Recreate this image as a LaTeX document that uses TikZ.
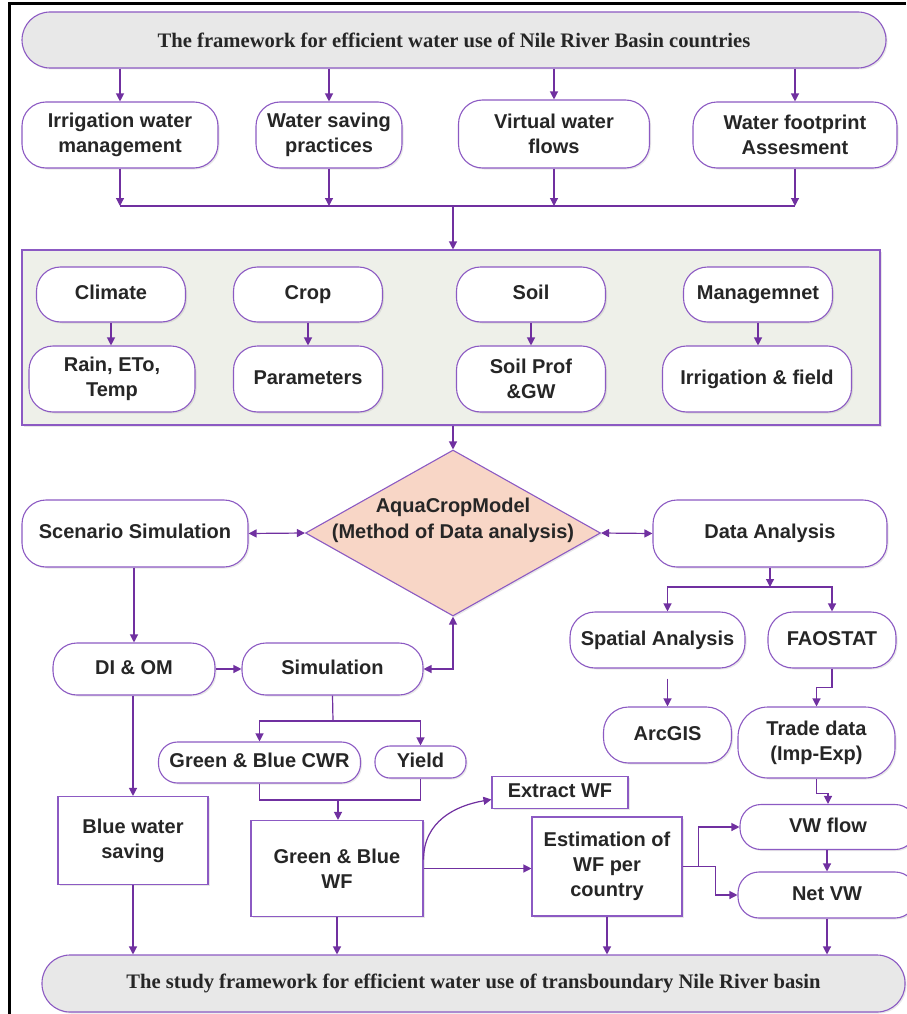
\documentclass[tikz,border=0pt]{standalone}
\usepackage{fontspec}
\setmainfont{Liberation Serif}
\newfontfamily\boxfont{Liberation Sans}
\usetikzlibrary{shapes.geometric,arrows.meta,shadows}
\definecolor{vio}{RGB}{112,48,160}
\definecolor{boxline}{RGB}{140,90,195}
\definecolor{greyfill}{RGB}{232,232,232}
\definecolor{sagefill}{RGB}{238,240,233}
\definecolor{peach}{RGB}{248,214,198}
\definecolor{ink}{RGB}{38,38,38}

\begin{document}
\begin{tikzpicture}[x=1pt, y=-1pt,
	>={Triangle[length=8pt,width=8pt]},
	link/.style={draw=vio, line width=1.2pt},
	shadowed/.style={drop shadow={opacity=0.18, shadow xshift=1.5pt, shadow yshift=-1.5pt}},
	pill/.style={draw=boxline, line width=1.1pt, fill=white, rounded corners=24pt, align=center, inner sep=0pt, text=ink, shadowed, font=\boxfont\bfseries\fontsize{20}{25}\selectfont},
	oneline/.style={text height=14.5pt, text depth=4.2pt},
	sqbox/.style={pill, rounded corners=0pt},
	banner/.style={pill, fill=greyfill, rounded corners=28pt, font=\bfseries\fontsize{20.6}{24}\selectfont}
	]
			\useasboundingbox (0,0) rectangle (906,1014) ;
			\draw [line width=3pt] (9,1014) -- (9,4) -- (906,4) ;

			% header and row of topics
			\node[banner, minimum width=864pt, minimum height=56pt] (top) at (454,40) {The framework for efficient water use of Nile River Basin countries} ;
			\node[pill, minimum width=196pt, minimum height=66pt] (irr) at (120,135) {Irrigation water\\management} ;
			\node[pill, minimum width=146pt, minimum height=66pt] (wsp) at (329,135) {Water saving\\practices} ;
			\node[pill, minimum width=191pt, minimum height=68pt] (virt) at (554,134) {Virtual water\\flows} ;
			\node[pill, minimum width=204pt, minimum height=66pt] (wfa) at (795,135) {Water footprint\\Assesment} ;

			\draw [link, ->] (irr.north |- top.south) -- (irr.north) ;
			\draw [link, ->] (wsp.north |- top.south) -- (wsp.north) ;
			\draw [link, ->] (virt.north |- top.south) -- (virt.north) ;
			\draw [link, ->] (wfa.north |- top.south) -- (wfa.north) ;

			\coordinate (bus1) at (453,206) ;
			\draw [link, ->] (irr.south) -- (irr.south |- bus1) ;
			\draw [link, ->] (wsp.south) -- (wsp.south |- bus1) ;
			\draw [link, ->] (virt.south) -- (virt.south |- bus1) ;
			\draw [link, ->] (wfa.south) -- (wfa.south |- bus1) ;
			\draw [link] (irr.south |- bus1) -- (wfa.south |- bus1) ;

			% model inputs
			\node[sqbox, fill=sagefill, minimum width=858pt, minimum height=175pt] (inputs) at (451,337.5) {} ;
			\draw [link, ->] (bus1) -- (bus1 |- inputs.north) ;

			\node[pill, oneline, minimum width=149pt, minimum height=55pt] (climate) at (111,294.5) {Climate} ;
			\node[pill, oneline, minimum width=149pt, minimum height=55pt] (crop) at (308,294.5) {Crop} ;
			\node[pill, oneline, minimum width=149pt, minimum height=55pt] (soil) at (531,294.5) {Soil} ;
			\node[pill, oneline, minimum width=149pt, minimum height=55pt] (mgmt) at (758,294.5) {Managemnet} ;
			\node[pill, minimum width=166pt, minimum height=66pt] (rain) at (112,379) {Rain, ETo,\\Temp} ;
			\node[pill, oneline, minimum width=149pt, minimum height=66pt] (param) at (308,379) {Parameters} ;
			\node[pill, minimum width=149pt, minimum height=66pt] (sprof) at (531,379) {Soil Prof\\\&GW} ;
			\node[pill, oneline, minimum width=189pt, minimum height=66pt] (irfield) at (757,379) {Irrigation \& field} ;

			\draw [link, ->] (climate.south) -- (climate.south |- rain.north) ;
			\draw [link, ->] (crop.south) -- (param.north) ;
			\draw [link, ->] (soil.south) -- (sprof.north) ;
			\draw [link, ->] (mgmt.south) -- (mgmt.south |- irfield.north) ;

			% model
			\node[diamond, draw=boxline, line width=1.1pt, fill=peach, shadowed, minimum width=295pt, minimum height=166pt, inner sep=0pt] (aqua) at (453,533) {} ;
			\node[align=center, text=ink, font=\boxfont\bfseries\fontsize{20}{26}\selectfont] (aquatext) at (453,520) {AquaCropModel\\(Method of Data analysis)} ;
			\draw [link, ->] (inputs.south -| aqua.north) -- (aqua.north) ;

			\node[pill, oneline, minimum width=226pt, minimum height=67pt] (scen) at (135,533.5) {Scenario Simulation} ;
			\node[pill, oneline, minimum width=234pt, minimum height=67pt] (data) at (770,533.5) {Data Analysis} ;
			\draw [link, <->] (scen.east) -- (aqua.west) ;
			\draw [link, <->] (aqua.east) -- (data.west) ;

			% scenario branch
			\node[pill, oneline, minimum width=162pt, minimum height=52pt] (dio) at (134,669) {DI \& OM} ;
			\node[pill, oneline, minimum width=181pt, minimum height=52pt] (sim) at (332.5,669) {Simulation} ;
			\draw [link, ->] (dio.north |- scen.south) -- (dio.north) ;
			\draw [link, ->] (dio.east) -- (sim.west) ;
			\draw [link, <->] (aqua.south) |- (sim.east) ;

			\node[pill, oneline, rounded corners=19pt, minimum width=202pt, minimum height=41pt] (cwr) at (259.5,762.5) {Green \& Blue CWR} ;
			\node[pill, oneline, rounded corners=15pt, minimum width=91pt, minimum height=32pt] (yield) at (420.5,762) {Yield} ;
			\coordinate (fork1) at (333,721) ;
			\draw [link] (sim.south) -- (fork1) ;
			\draw [link, ->] (fork1) -| (cwr.north) ;
			\draw [link, ->] (fork1) -| (yield.north) ;

			\node[sqbox, minimum width=172pt, minimum height=96pt] (gbwf) at (337,868.5) {Green \& Blue\\WF} ;
			\node[sqbox, minimum width=150pt, minimum height=88pt] (bws) at (133,840.5) {Blue water\\saving} ;
			\coordinate (join1) at (338,800) ;
			\draw [link] (cwr.south) |- (yield.south |- join1) -- (yield.south) ;
			\draw [link, ->] (join1) -- (gbwf.north -| join1) ;
			\draw [link, ->] (bws.north |- dio.south) -- (bws.north) ;

			% water footprint
			\node[sqbox, oneline, minimum width=136pt, minimum height=32pt] (extract) at (560,792.5) {Extract WF} ;
			\node[sqbox, minimum width=150pt, minimum height=99pt] (est) at (607,866.5) {Estimation of\\WF per\\country} ;
			\draw [link, ->] ([yshift=9pt]gbwf.east) .. controls +(0,-38) and +(-36,6) .. ([yshift=-7pt]extract.west) ;
			\draw [link, ->] (gbwf.east) -- (gbwf.east -| est.west) ;

			% data analysis branch
			\node[pill, oneline, rounded corners=25pt, minimum width=175pt, minimum height=56pt] (spatial) at (657.5,640) {Spatial Analysis} ;
			\node[pill, oneline, rounded corners=25pt, minimum width=128pt, minimum height=56pt] (fao) at (832,640) {FAOSTAT} ;
			\node[pill, oneline, rounded corners=25pt, minimum width=128pt, minimum height=56pt] (arcgis) at (667.5,735) {ArcGIS} ;
			\node[pill, rounded corners=30pt, minimum width=157pt, minimum height=71pt] (trade) at (816.5,742.5) {Trade data\\(Imp-Exp)} ;
			\coordinate (bus3) at (770,587) ;
			\draw [link, ->] (data.south) -- (bus3) ;
			\draw [link, ->] (bus3) -| (spatial.north -| arcgis.north) ;
			\draw [link, ->] (bus3) -| (fao.north) ;
			\draw [link, ->] ([yshift=-10pt]spatial.south -| arcgis.north) -- (arcgis.north) ;
			\draw [link, ->] (fao.south) -- ++(0,19) -| (trade.north) ;

			\node[pill, oneline, rounded corners=21pt, minimum width=176pt, minimum height=45pt] (vwflow) at (828,827) {VW flow} ;
			\node[pill, oneline, rounded corners=21pt, minimum width=178pt, minimum height=46pt] (netvw) at (827,895) {Net VW} ;
			\draw [link, ->] (trade.south) -- ++(0,15) -| (vwflow.north) ;
			\draw [link, ->] (est.east) -- ++(16,0) |- (vwflow.west) ;
			\draw [link, ->] (est.east) -- ++(33,0) |- (netvw.west) ;
			\draw [link, ->] (vwflow.south -| netvw.north) -- (netvw.north) ;

			% study framework
			\node[banner, minimum width=863pt, minimum height=57pt] (bottom) at (473.5,983.5) {The study framework for efficient water use of transboundary Nile River basin} ;
			\draw [link, ->] (bws.south) -- (bws.south |- bottom.north) ;
			\draw [link, ->] (gbwf.south) -- (gbwf.south |- bottom.north) ;
			\draw [link, ->] (est.south) -- (est.south |- bottom.north) ;
			\draw [link, ->] (netvw.south) -- (netvw.south |- bottom.north) ;
		\end{tikzpicture}
\end{document}
